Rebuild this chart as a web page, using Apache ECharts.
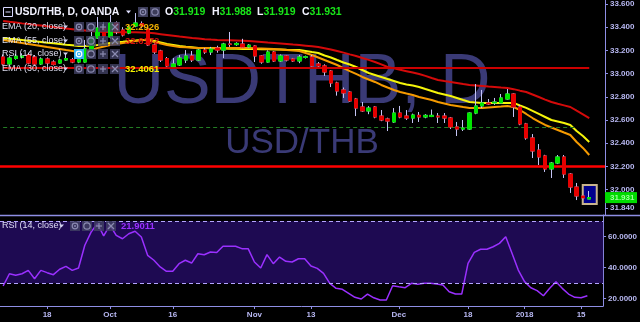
<!DOCTYPE html>
<html><head><meta charset="utf-8">
<script src="https://cdn.jsdelivr.net/npm/echarts@6/dist/echarts.min.js"></script>
<style>html,body{margin:0;padding:0;background:#000;}#c{width:640px;height:322px;}</style>
</head><body><div id="c"></div>
<script>
// ---- data (USD/THB daily, OANDA) ----
const opens = [
33.143,33.083,33.130,33.140,33.160,33.143,33.083,33.126,33.100,33.091,
33.117,33.120,33.100,33.100,33.203,33.307,33.393,33.316,33.436,33.376,
33.350,33.410,33.430,33.385,33.247,33.195,33.130,33.060,33.075,33.117,
33.152,33.117,33.203,33.186,33.221,33.203,33.255,33.250,33.255,33.230,
33.238,33.152,33.100,33.186,33.109,33.152,33.126,33.109,33.140,33.143,
33.083,33.066,33.022,32.919,32.859,32.841,32.781,32.712,32.678,32.712,
32.634,32.609,32.583,32.660,32.634,32.617,32.640,32.626,32.630,32.634,
32.634,32.617,32.540,32.522,32.522,32.660,32.721,32.747,32.747,32.747,
32.781,32.824,32.712,32.566,32.445,32.341,32.290,32.178,32.229,32.281,
32.134,32.022,31.945,31.919];
const closes = [
33.083,33.134,33.150,33.152,33.091,33.083,33.126,33.091,33.080,33.117,
33.130,33.100,33.120,33.212,33.316,33.393,33.324,33.436,33.359,33.333,
33.402,33.436,33.410,33.247,33.186,33.117,33.066,33.083,33.134,33.152,
33.117,33.203,33.186,33.212,33.203,33.255,33.252,33.260,33.229,33.245,
33.152,33.100,33.186,33.109,33.152,33.117,33.109,33.143,33.145,33.066,
33.066,33.014,32.919,32.850,32.833,32.764,32.703,32.678,32.703,32.626,
32.600,32.591,32.660,32.626,32.617,32.643,32.626,32.640,32.640,32.626,
32.617,32.540,32.522,32.531,32.660,32.721,32.747,32.738,32.755,32.790,
32.824,32.712,32.566,32.445,32.333,32.281,32.178,32.229,32.281,32.134,
32.022,31.945,31.928,31.931];
const highs = [
33.165,33.150,33.170,33.175,33.180,33.160,33.140,33.140,33.115,33.130,
33.160,33.135,33.130,33.290,33.359,33.488,33.445,33.505,33.450,33.400,
33.420,33.522,33.450,33.400,33.260,33.205,33.143,33.134,33.160,33.203,
33.195,33.212,33.221,33.230,33.240,33.265,33.359,33.270,33.300,33.255,
33.245,33.160,33.200,33.195,33.165,33.160,33.135,33.160,33.155,33.160,
33.100,33.080,33.030,32.930,32.880,32.850,32.790,32.755,32.720,32.720,
32.686,32.620,32.703,32.721,32.686,32.655,32.669,32.650,32.690,32.660,
32.660,32.626,32.583,32.600,32.665,32.910,32.859,32.781,32.790,32.824,
32.867,32.830,32.730,32.575,32.479,32.393,32.300,32.238,32.298,32.298,
32.143,32.057,31.950,31.988];
const lows = [
33.070,33.075,33.120,33.130,33.080,33.070,33.075,33.080,33.070,33.085,
33.110,33.090,33.090,33.095,33.195,33.300,33.310,33.300,33.340,33.320,
33.340,33.400,33.390,33.238,33.170,33.100,33.055,33.050,33.066,33.091,
33.100,33.109,33.170,33.160,33.180,33.134,33.230,33.240,33.220,33.220,
33.100,33.085,33.095,33.100,33.100,33.105,33.100,33.090,33.130,33.060,
33.040,32.980,32.884,32.810,32.790,32.755,32.634,32.670,32.650,32.615,
32.590,32.505,32.575,32.615,32.600,32.574,32.583,32.615,32.625,32.574,
32.574,32.522,32.462,32.505,32.515,32.650,32.703,32.730,32.730,32.740,
32.775,32.626,32.555,32.430,32.272,32.212,32.152,32.100,32.220,32.100,
31.971,31.910,31.920,31.919];
const ema55 = [
33.453,33.446,33.440,33.433,33.427,33.420,33.414,33.408,33.402,33.395,
33.389,33.383,33.377,33.372,33.367,33.362,33.359,33.358,33.357,33.356,
33.356,33.356,33.355,33.353,33.347,33.340,33.333,33.326,33.319,33.313,
33.307,33.302,33.297,33.293,33.290,33.288,33.287,33.285,33.283,33.281,
33.277,33.273,33.268,33.264,33.260,33.256,33.251,33.247,33.241,33.235,
33.229,33.218,33.207,33.195,33.181,33.166,33.152,33.135,33.118,33.100,
33.080,33.057,33.045,33.033,33.021,33.009,32.997,32.980,32.962,32.945,
32.936,32.928,32.919,32.910,32.902,32.898,32.894,32.889,32.885,32.880,
32.876,32.866,32.853,32.841,32.820,32.798,32.776,32.755,32.740,32.726,
32.712,32.680,32.649,32.617];
const ema30 = [
33.307,33.301,33.296,33.290,33.284,33.278,33.272,33.266,33.261,33.255,
33.249,33.244,33.238,33.238,33.242,33.247,33.255,33.264,33.270,33.275,
33.281,33.285,33.290,33.290,33.281,33.268,33.255,33.247,33.238,33.232,
33.227,33.221,33.220,33.218,33.217,33.216,33.215,33.214,33.213,33.212,
33.211,33.209,33.209,33.208,33.207,33.205,33.204,33.203,33.195,33.186,
33.178,33.156,33.139,33.117,33.096,33.078,33.057,33.031,33.005,32.988,
32.971,32.953,32.936,32.919,32.906,32.897,32.885,32.867,32.850,32.833,
32.820,32.807,32.790,32.772,32.755,32.751,32.747,32.747,32.747,32.747,
32.747,32.747,32.725,32.704,32.678,32.652,32.626,32.600,32.587,32.574,
32.557,32.505,32.462,32.410];
const ema20 = [
33.290,33.281,33.272,33.264,33.255,33.247,33.238,33.229,33.221,33.212,
33.203,33.195,33.186,33.186,33.203,33.221,33.234,33.247,33.255,33.264,
33.272,33.281,33.290,33.290,33.272,33.259,33.247,33.238,33.229,33.227,
33.223,33.221,33.221,33.221,33.221,33.221,33.221,33.221,33.221,33.221,
33.218,33.216,33.214,33.212,33.208,33.203,33.199,33.195,33.178,33.160,
33.139,33.117,33.096,33.074,33.048,33.022,32.997,32.971,32.949,32.928,
32.902,32.880,32.859,32.841,32.828,32.816,32.798,32.785,32.772,32.755,
32.742,32.729,32.721,32.712,32.704,32.704,32.704,32.708,32.712,32.716,
32.721,32.712,32.686,32.652,32.617,32.587,32.557,32.535,32.514,32.492,
32.471,32.410,32.359,32.298];
const rsi14 = [
28.2,36.1,35.1,36.1,38.3,32.9,38.3,36.8,35.5,39.0,
40.9,38.3,39.8,54.5,63.0,68.4,60.5,67.4,60.9,58.7,
61.9,63.5,59.8,48.0,44.8,40.5,37.7,37.7,42.6,44.8,
43.0,49.0,48.4,50.1,49.8,53.8,53.8,53.8,52.3,52.3,
43.7,39.8,48.4,42.6,46.9,44.1,43.7,45.8,45.8,41.1,
39.6,36.4,29.9,26.7,26.1,23.5,20.9,19.8,23.0,20.6,
19.2,19.2,28.4,27.7,27.1,29.9,29.3,29.9,29.9,29.5,
28.8,24.5,23.0,23.0,42.8,49.9,51.9,51.9,53.5,55.7,
60.0,49.3,38.5,31.0,27.1,25.2,21.9,26.7,31.0,26.7,
23.0,20.9,20.6,21.9];
const tickIdx  = [7, 17, 27, 40, 49, 63, 74, 83, 92];
const tickText = ['18','Oct','16','Nov','13','Dec','18','2018','15'];
const priceTicks = [33.6, 33.4, 33.2, 33.0, 32.8, 32.6, 32.4, 32.2, 32.0, 31.84];
const rsiTicks = [20, 40, 60];
const hLineUpper = 33.052;   // red horizontal level
const hLineLower = 32.205;   // red support level
const hLineGreen = 32.534;   // green dashed level
const lastOHLC = {o: 31.919, h: 31.988, l: 31.919, c: 31.931};
const legendVals = {ema20: '32.2926', ema55: '32.6172', ema30: '32.4061', rsi: '21.9011'};
const SLOTS = 96;

// ---- chart ----
const FONT = '"Liberation Sans", Arial, sans-serif';
const AX = '#8e8ee4', LBL = '#b8b8f2', WICK = '#c4c4f4';
const UP = '#00e600', DN = '#e60000';
const cats = Array.from({length: SLOTS}, (_, i) => String(i));
const wickData = opens.map((o, i) => [o, closes[i], lows[i], highs[i]]);
const bodyData = opens.map((o, i) => [o, closes[i], Math.min(o, closes[i]), Math.max(o, closes[i])]);

const chart = echarts.init(document.getElementById('c'), null, {renderer: 'canvas'});
chart.setOption({
  backgroundColor: '#000',
  animation: false,
  grid: [
    {left: 0, top: 0, width: 605, height: 215},
    {left: 0, top: 215, width: 605, height: 91}
  ],
  xAxis: [
    {type: 'category', gridIndex: 0, data: cats, boundaryGap: true, show: false},
    {type: 'category', gridIndex: 1, data: cats, boundaryGap: true,
     axisLine: {show: true, lineStyle: {color: AX, width: 1}},
     axisTick: {show: true, alignWithLabel: true, length: 3, lineStyle: {color: AX},
                interval: (i) => tickIdx.indexOf(i) >= 0},
     axisLabel: {interval: 0, color: LBL, fontSize: 8, fontWeight: 'bold', fontFamily: FONT, margin: 5,
                 formatter: (v, i) => { const k = tickIdx.indexOf(i); return k >= 0 ? tickText[k] : ''; }},
     splitLine: {show: false}}
  ],
  yAxis: [
    {type: 'value', gridIndex: 0, position: 'right', min: 31.781, max: 33.6345, scale: true,
     axisLine: {show: true, lineStyle: {color: AX, width: 1}},
     axisTick: {show: true, length: 3, lineStyle: {color: AX}, customValues: priceTicks},
     axisLabel: {color: LBL, fontSize: 8, fontWeight: 'bold', fontFamily: FONT, margin: 5,
                 customValues: priceTicks, formatter: v => v.toFixed(3)},
     splitLine: {show: false}},
    {type: 'value', gridIndex: 1, position: 'right', min: 15.3, max: 74.0,
     axisLine: {show: true, lineStyle: {color: AX, width: 1}},
     axisTick: {show: true, length: 3, lineStyle: {color: AX}, customValues: rsiTicks},
     axisLabel: {color: LBL, fontSize: 8, fontWeight: 'bold', fontFamily: FONT, margin: 5,
                 customValues: rsiTicks, formatter: v => v.toFixed(4)},
     splitLine: {show: false}}
  ],
  series: [
    {type: 'line', name: 'EMA55', xAxisIndex: 0, yAxisIndex: 0, data: ema55, z: 3,
     symbol: 'none', lineStyle: {color: '#d40a0a', width: 2}, silent: true,
     markLine: {silent: true, symbol: ['none', 'none'], label: {show: false}, animation: false,
       data: [
         [{coord: [0, hLineUpper], lineStyle: {color: '#cc0000', width: 2, type: 'solid'}},
          {coord: [92.5, hLineUpper]}],
         [{coord: [0, hLineGreen], lineStyle: {color: '#237d23', width: 1, type: [4, 3]}},
          {coord: [91, hLineGreen]}],
         {yAxis: hLineLower, lineStyle: {color: '#ff0000', width: 2.5, type: 'solid'}}
       ]}},
    {type: 'line', name: 'EMA30', xAxisIndex: 0, yAxisIndex: 0, data: ema30, z: 3,
     symbol: 'none', lineStyle: {color: '#f5f50a', width: 2}, silent: true},
    {type: 'line', name: 'EMA20', xAxisIndex: 0, yAxisIndex: 0, data: ema20, z: 3,
     symbol: 'none', lineStyle: {color: '#f59a00', width: 2}, silent: true},
    {type: 'candlestick', name: 'wick', xAxisIndex: 0, yAxisIndex: 0, data: wickData, z: 4,
     barWidth: 4, silent: true,
     itemStyle: {color: 'rgba(0,0,0,0)', color0: 'rgba(0,0,0,0)', borderColor: WICK, borderColor0: WICK,
                 borderColorDoji: WICK, borderWidth: 1}},
    {type: 'candlestick', name: 'body', xAxisIndex: 0, yAxisIndex: 0, data: bodyData, z: 5,
     barWidth: 4, silent: true,
     itemStyle: {color: UP, color0: DN, borderColor: UP, borderColor0: DN, borderColorDoji: UP, borderWidth: 1}},
    {type: 'line', name: 'RSI', xAxisIndex: 1, yAxisIndex: 1, data: rsi14, z: 4,
     symbol: 'none', lineStyle: {color: '#9a30ff', width: 1.5}, silent: true,
     markArea: {silent: true, itemStyle: {color: '#1e0a52'}, data: [[{yAxis: 30}, {yAxis: 70}]]},
     markLine: {silent: true, symbol: ['none', 'none'], label: {show: false},
       lineStyle: {color: '#b4a4ff', width: 1, type: [4, 3]},
       data: [{yAxis: 70}, {yAxis: 30}]}}
  ]
});

// ---- overlay texts and decorations ----
const g = [];
function txt(x, y, text, fill, font, extra) {
  g.push(Object.assign({type: 'text', z: 20, silent: true,
    style: {x, y, text, fill, font, textVerticalAlign: 'middle'}}, extra || {}));
}
function tri(x, y, fill) {
  g.push({type: 'polygon', z: 20, silent: true, shape: {points: [[x, y - 1.5], [x + 5, y - 1.5], [x + 2.5, y + 1.5]]}, style: {fill}});
}
function iconBox(x, y, fill, glyph, glyphColor) {
  g.push({type: 'rect', z: 20, silent: true, shape: {x, y: y - 5, width: 10, height: 10}, style: {fill}});
  const cx = x + 5, cy = y;
  if (glyph === 'eye' || glyph === 'gear') {
    g.push({type: 'circle', z: 21, silent: true, shape: {cx, cy, r: glyph === 'eye' ? 2.8 : 3.2},
            style: {fill: 'none', stroke: glyphColor, lineWidth: 1.2}});
    if (glyph === 'eye') g.push({type: 'circle', z: 21, silent: true, shape: {cx, cy, r: 1}, style: {fill: glyphColor}});
  } else if (glyph === 'plus') {
    g.push({type: 'line', z: 21, silent: true, shape: {x1: cx - 3, y1: cy, x2: cx + 3, y2: cy}, style: {stroke: glyphColor, lineWidth: 1.2}});
    g.push({type: 'line', z: 21, silent: true, shape: {x1: cx, y1: cy - 3, x2: cx, y2: cy + 3}, style: {stroke: glyphColor, lineWidth: 1.2}});
  } else {
    g.push({type: 'line', z: 21, silent: true, shape: {x1: cx - 3, y1: cy - 3, x2: cx + 3, y2: cy + 3}, style: {stroke: glyphColor, lineWidth: 1.2}});
    g.push({type: 'line', z: 21, silent: true, shape: {x1: cx + 3, y1: cy - 3, x2: cx - 3, y2: cy + 3}, style: {stroke: glyphColor, lineWidth: 1.2}});
  }
}
// watermark
g.push({type: 'text', z: 0, silent: true, style: {x: 302, y: 84, text: 'USDTHB, D', fill: '#3a3a76',
        font: '70px ' + FONT, textAlign: 'center', textVerticalAlign: 'middle'}});
g.push({type: 'text', z: 0, silent: true, style: {x: 302, y: 143, text: 'USD/THB', fill: '#3a3a76',
        font: '35px ' + FONT, textAlign: 'center', textVerticalAlign: 'middle'}});
// pane separator
g.push({type: 'line', z: 6, silent: true, shape: {x1: 0, y1: 215.5, x2: 640, y2: 215.5}, style: {stroke: AX, lineWidth: 1.5}});
// header
g.push({type: 'rect', z: 20, silent: true, shape: {x: 3.5, y: 7.5, width: 9, height: 9}, style: {fill: 'none', stroke: '#d8d8ff', lineWidth: 1}});
g.push({type: 'line', z: 20, silent: true, shape: {x1: 5.5, y1: 12, x2: 10.5, y2: 12}, style: {stroke: '#d8d8ff', lineWidth: 1}});
txt(15, 12, 'USD/THB, D, OANDA', '#f2f2ff', 'bold 10.5px ' + FONT);
tri(126, 12, '#e0e0ff');
iconBox(138, 12, 'rgba(70,70,105,0.85)', 'eye', '#8a8ab0');
iconBox(150, 12, 'rgba(70,70,105,0.85)', 'gear', '#8a8ab0');
const ohlc = [['O', lastOHLC.o, 165], ['H', lastOHLC.h, 212], ['L', lastOHLC.l, 257], ['C', lastOHLC.c, 302]];
ohlc.forEach(([k, v, x]) => {
  g.push({type: 'text', z: 20, silent: true, style: {x, y: 12, textVerticalAlign: 'middle',
    text: '{a|' + k + '}{b|' + v.toFixed(3) + '}',
    rich: {a: {fill: '#f2f2ff', font: 'bold 10.5px ' + FONT}, b: {fill: '#19e619', font: 'bold 10.5px ' + FONT}}}});
});
// legend rows
function legendRow(y, label, value, vColor, firstFill) {
  txt(2, y, label, 'rgba(235,235,255,0.92)', '9px ' + FONT);
  tri(63, y, '#d0d0f0');
  iconBox(74, y, firstFill || 'rgba(65,65,100,0.8)', 'eye', firstFill ? '#ffffff' : '#8a8ab0');
  iconBox(86, y, 'rgba(65,65,100,0.8)', 'gear', '#8a8ab0');
  iconBox(98, y, 'rgba(65,65,100,0.8)', 'plus', '#8a8ab0');
  iconBox(110, y, 'rgba(65,65,100,0.8)', 'x', '#8a8ab0');
  if (value) txt(125, y, value, vColor, 'bold 9.5px ' + FONT);
}
legendRow(27, 'EMA (20, close)', legendVals.ema20, '#f0b000');
legendRow(41, 'EMA (55, close)', legendVals.ema55, '#d41010');
legendRow(54, 'RSI (14, close)', null, null, '#39b4f0');
legendRow(69, 'EMA (30, close)', legendVals.ema30, '#f0f000');
// RSI pane legend
txt(2, 226, 'RSI (14, close)', 'rgba(235,235,255,0.92)', '9px ' + FONT);
tri(59, 226, '#d0d0f0');
iconBox(70, 226, 'rgba(65,65,100,0.8)', 'eye', '#8a8ab0');
iconBox(82, 226, 'rgba(65,65,100,0.8)', 'gear', '#8a8ab0');
iconBox(94, 226, 'rgba(65,65,100,0.8)', 'plus', '#8a8ab0');
iconBox(106, 226, 'rgba(65,65,100,0.8)', 'x', '#8a8ab0');
txt(121, 226, legendVals.rsi, '#9a30ff', 'bold 9.5px ' + FONT);

// last-bar highlight box and last price tag, positioned via the chart scales
const lastIdx = opens.length - 1;
const pTop = chart.convertToPixel({gridIndex: 0}, [lastIdx, 32.04]);
const pBot = chart.convertToPixel({gridIndex: 0}, [lastIdx, 31.876]);
g.push({type: 'rect', z: 1, silent: true,
  shape: {x: pTop[0] - 6.5, y: pTop[1], width: 14, height: pBot[1] - pTop[1]},
  style: {fill: '#00008c', stroke: '#c8b48c', lineWidth: 2}});
const yLast = chart.convertToPixel({yAxisIndex: 0}, lastOHLC.c);
g.push({type: 'rect', z: 20, silent: true, shape: {x: 605, y: yLast - 5.5, width: 32, height: 11}, style: {fill: '#00dc00'}});
txt(610, yLast, lastOHLC.c.toFixed(3), '#9cff9c', 'bold 8px ' + FONT);

chart.setOption({graphic: {elements: g}});
</script>
</body></html>
